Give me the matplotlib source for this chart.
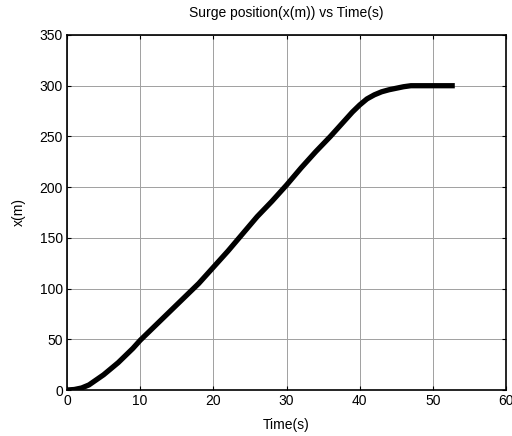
import matplotlib
matplotlib.use("Agg")
import matplotlib.pyplot as plt

plt.rcParams['font.family'] = ['Liberation Sans', 'DejaVu Sans']

time_s = [0, 1, 2, 3, 4, 5, 6, 7, 8, 9, 10, 12, 14, 16, 18, 20, 22, 24, 26, 28,
          30, 32, 34, 36, 38, 39, 40, 41, 42, 43, 44, 45, 46, 47, 48, 50, 53]
surge_x = [0, 0.5, 2, 5, 10, 15, 21, 27, 34, 41, 49, 63, 77, 91, 105, 121, 137, 154, 171, 186,
           202, 219, 235, 250, 266, 274, 281, 287, 291, 294, 296, 297.5, 299, 300, 300, 300, 300]

fig = plt.figure(figsize=(5.12, 4.36), dpi=100)
ax = fig.add_axes([67/512, 1-390/436, (506-67)/512, (390-35)/436])
ax.plot(time_s, surge_x, color='black', linewidth=3.8, solid_capstyle='butt')
ax.set_xlim(0, 60)
ax.set_ylim(0, 350)
ax.set_xticks(range(0, 61, 10))
ax.set_yticks(range(0, 351, 50))
ax.grid(True, color='#a0a0a0', linewidth=0.7)
ax.tick_params(direction='in', length=3, labelsize=10, top=True, right=True, pad=3)
for s in ax.spines.values():
    s.set_linewidth(1.2)
ax.set_title('Surge position(x(m)) vs Time(s)', fontsize=10, pad=13)
ax.set_xlabel('Time(s)', fontsize=10, labelpad=7)
ax.set_ylabel('x(m)', fontsize=10, labelpad=10)
fig.savefig('out.png', dpi=100)
